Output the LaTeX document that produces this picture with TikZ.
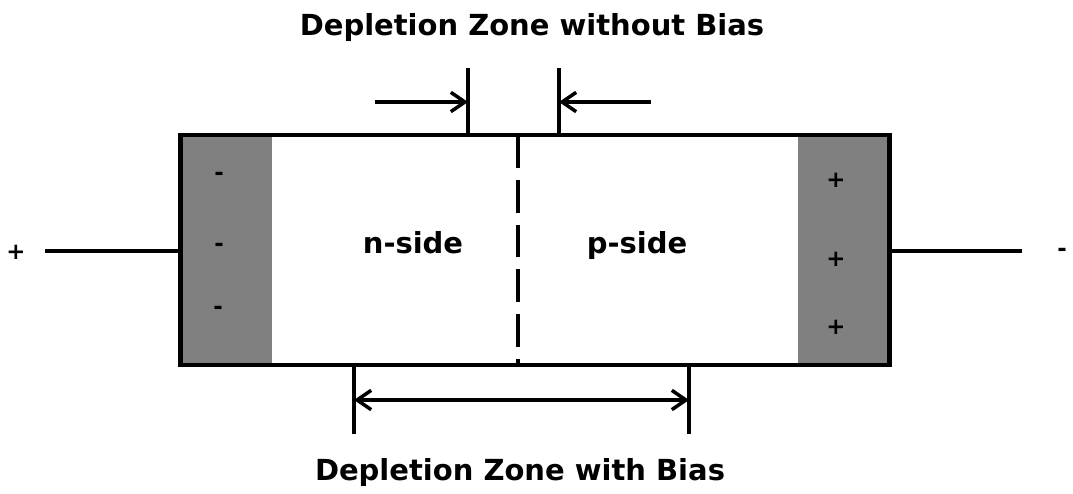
\documentclass[tikz,border=0pt]{standalone}
\usepackage{fontspec}
\setmainfont{DejaVu Sans}
\usetikzlibrary{arrows.meta,positioning}

\begin{document}
\begin{tikzpicture}[x=0.02cm,y=-0.02cm,
  lbl/.style={font=\bfseries\fontsize{16.5}{19}\selectfont,text height=0.75em,text depth=0.22em},
  sign/.style={font=\bfseries\fontsize{13}{15}\selectfont,inner sep=0pt},
  zone/.style={fill=black!50,draw=none,inner sep=0pt,outer sep=0pt,minimum width=1.84cm,minimum height=4.6cm},
  bar/.style={line width=2.1pt},
  wire/.style={line width=2.1pt},
  dim/.style={line width=2pt,-{Straight Barb[length=8pt,width=11pt]}}]
  \useasboundingbox (0,0) rectangle (1073,494);
  % charged end regions
  \node[zone] (nzone) at (226,250) {};
  \node[zone] (pzone) at (843.5,250) {};
  \node[sign] (m1) at (219,176) {-};
  \node[sign] (m2) at (219,247) {-};
  \node[sign] (m3) at (218,310) {-};
  \node[sign] (p1) at (836,180) {+};
  \node[sign] (p2) at (836,259) {+};
  \node[sign] (p3) at (836,327) {+};
  % diode body
  \node[draw,line width=2.8pt,inner sep=0pt,outer sep=0pt,minimum width=14.2cm,minimum height=4.6cm] (diode) at (535,250) {};
  \coordinate (jt) at (518,135);
  \coordinate (jb) at (518,365);
  \draw[line width=2.1pt,dash pattern=on 18.7pt off 6.8pt] (jt) -- (jb);
  \node[lbl] (nside) at (413,249) {n-side};
  \node[lbl] (pside) at (637,249) {p-side};
  % terminals
  \node[sign] (tplus) at (16,252) {+};
  \node[sign] (tminus) at (1062,252) {-};
  \coordinate (wl) at (45,251);
  \coordinate (wr) at (1022,251);
  \draw[wire] (wl) -- (wl -| diode.west);
  \draw[wire] (diode.east |- wr) -- (wr);
  % depletion zone without bias
  \coordinate (a1) at (468,68);
  \coordinate (a2) at (559,68);
  \draw[bar] (a1) -- (a1 |- diode.north);
  \draw[bar] (a2) -- (a2 |- diode.north);
  \coordinate (s1) at (375,102);
  \coordinate (s2) at (651,102);
  \draw[dim] (s1) -- (s1 -| a1);
  \draw[dim] (s2) -- (s2 -| a2);
  \node[lbl] (top) at (532,31) {Depletion Zone without Bias};
  % depletion zone with bias
  \coordinate (b1) at (354,434);
  \coordinate (b2) at (689,434);
  \draw[bar] (b1 |- diode.south) -- (b1);
  \draw[bar] (b2 |- diode.south) -- (b2);
  \coordinate (d1) at (354,400);
  \coordinate (d2) at (689,400);
  \draw[dim,{Straight Barb[length=8pt,width=11pt]}-{Straight Barb[length=8pt,width=11pt]}] (d1) -- (d2);
  \node[lbl] (bottom) at (520,476) {Depletion Zone with Bias};
\end{tikzpicture}
\end{document}
